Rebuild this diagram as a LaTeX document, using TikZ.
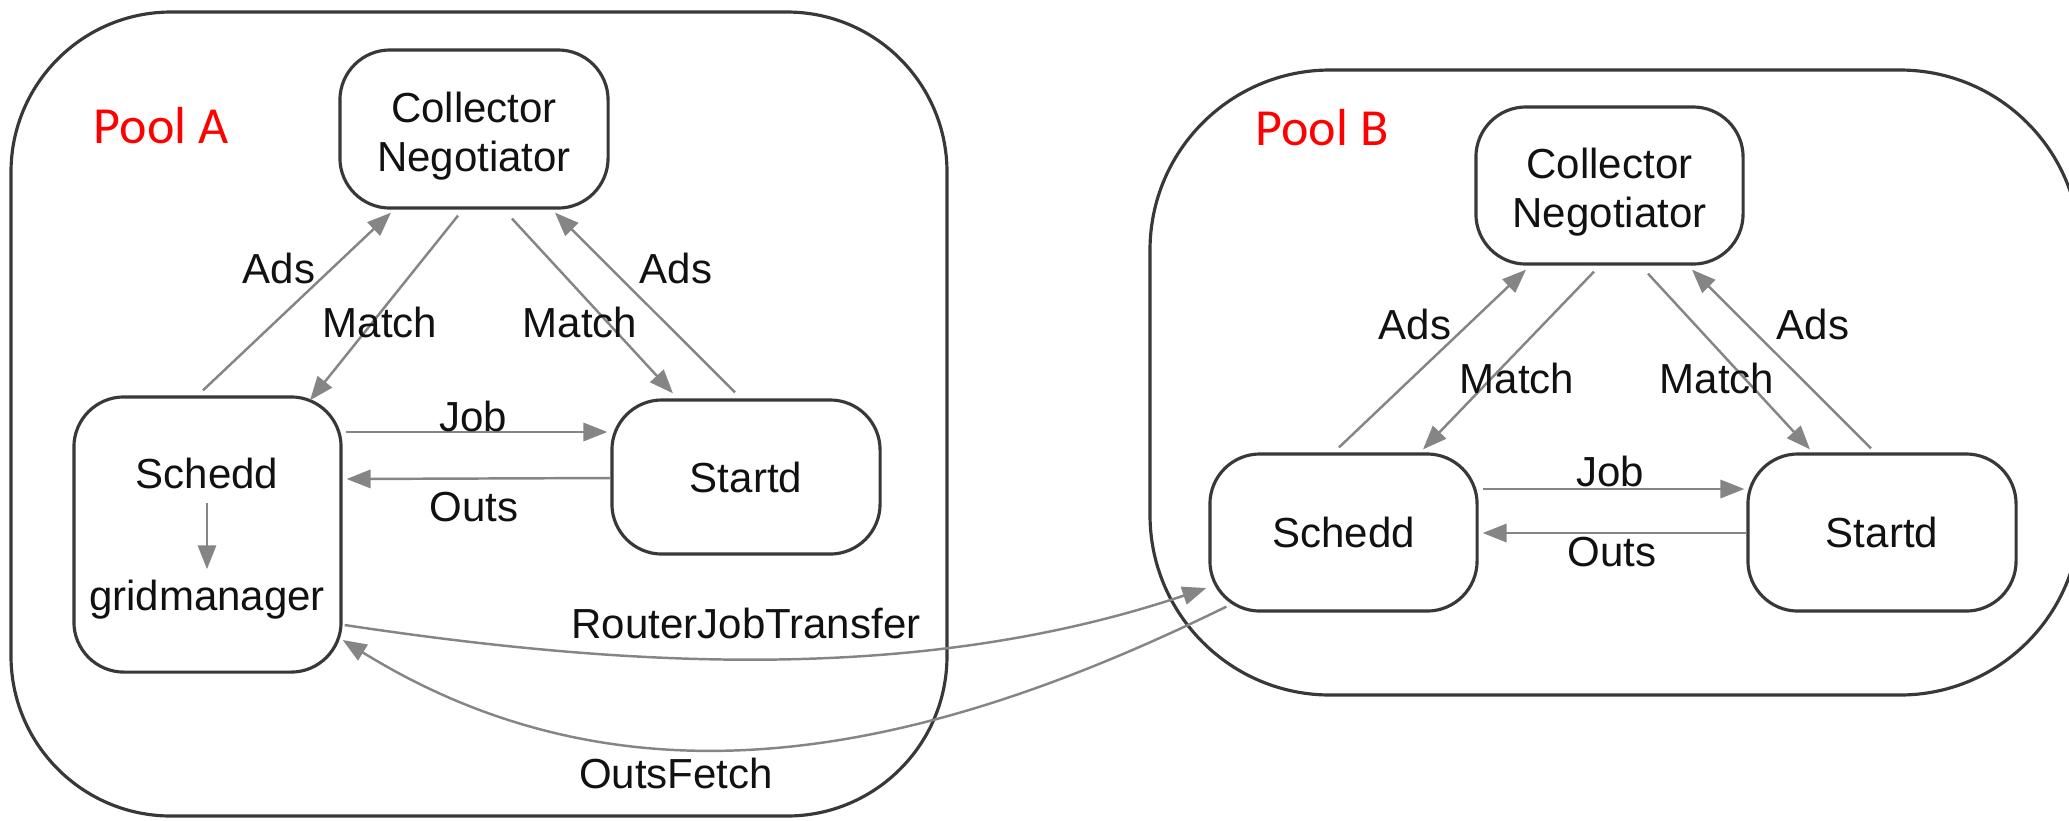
\documentclass[tikz,border=0pt]{standalone}
\usepackage{fontspec}
\setmainfont{Liberation Sans}
\newfontfamily\poolfont{Carlito}
\usetikzlibrary{arrows.meta,calc}
\definecolor{linegray}{HTML}{858585}
\definecolor{boxgray}{HTML}{383838}
\definecolor{txt}{HTML}{111111}
\begin{document}
\begin{tikzpicture}[x=0.01cm,y=-0.01cm,
  box/.style={draw=boxgray, line width=0.9pt, rounded corners=0.5cm, inner sep=0pt,
    align=center, text=txt, font=\fontsize{11.95}{13.9}\selectfont},
  pool/.style={draw=boxgray, line width=0.9pt},
  lbl/.style={text=txt, font=\fontsize{11.95}{13.9}\selectfont, inner sep=0pt, align=center},
  poollbl/.style={text=red, font=\poolfont\fontsize{14.8}{17}\selectfont, inner sep=0pt},
  conn/.style={draw=linegray, line width=0.7pt, -{Triangle[length=6.8pt,width=5.2pt]}}]
\useasboundingbox (0,0) rectangle (2069,820);

% pools
\draw[pool, rounded corners=1.6cm] (11,12) rectangle (947,816);
\draw[pool, rounded corners=1.8cm] (1150,70) rectangle (2080,695);
\node[poollbl] (plA) at (161,126) {Pool A};
\node[poollbl] (plB) at (1322,128) {Pool B};

% Pool A nodes
\node[box, minimum width=2.68cm, minimum height=1.58cm] (collA) at (474,129) {};
\node[lbl] (collAt) at (474,136) {Collector\\Negotiator};
\node[box, minimum width=2.67cm, minimum height=2.75cm] (schedA) at (207.5,534.5) {};
\node[lbl] (schedAt) at (207,473) {Schedd};
\node[lbl] (gmA) at (207,600) {gridmanager};
\node[box, minimum width=2.68cm, minimum height=1.54cm] (startA) at (746,477) {Startd};

% Pool B nodes
\node[box, minimum width=2.67cm, minimum height=1.57cm] (collB) at (1609.5,185.5) {};
\node[lbl] (collBt) at (1609.5,192) {Collector\\Negotiator};
\node[box, minimum width=2.67cm, minimum height=1.57cm] (schedB) at (1343.5,532.5) {Schedd};
\node[box, minimum width=2.68cm, minimum height=1.57cm] (startB) at (1882,532.5) {Startd};

% Pool A connectors
\draw[conn] ($(schedA.north)+(-4.5,-5)$) -- ($(collA.south)+(-83,3)$);
\draw[conn] ($(collA.south)+(-16,6)$) -- ($(schedA.north)+(102.5,5)$);
\draw[conn] ($(collA.south)+(38,9)$) -- ($(startA.north)+(-73,-5)$);
\draw[conn] ($(startA.north)+(-11,-6)$) -- ($(collA.south)+(81,3)$);
\draw[conn] ($(schedA.east)+(3,-102.5)$) -- ($(startA.west)+(-3,-45)$);
\draw[conn] ($(startA.west)+(0,1)$) -- ($(schedA.east)+(4,-55.5)$);
\draw[conn, shorten <=4pt, shorten >=3pt] (schedAt) -- (gmA);

% Pool A labels
\node[lbl] (adsA1) at (279,268) {Ads};
\node[lbl] (matA1) at (380,322) {Match};
\node[lbl] (matA2) at (580,322) {Match};
\node[lbl] (adsA2) at (676,268) {Ads};
\node[lbl] (jobA) at (473,416) {Job};
\node[lbl] (outsA) at (474,507) {Outs};

% Pool B connectors
\draw[conn] ($(schedB.north)+(-4.5,-5)$) -- ($(collB.south)+(-83.5,4)$);
\draw[conn] ($(collB.south)+(-15.5,6)$) -- ($(schedB.north)+(79.5,-3)$);
\draw[conn] ($(collB.south)+(38.5,8)$) -- ($(startB.north)+(-72,-3)$);
\draw[conn] ($(startB.north)+(-11,-4)$) -- ($(collB.south)+(82.5,4)$);
\draw[conn] ($(schedB.east)+(4,-43.5)$) -- ($(startB.west)+(-2,-43.5)$);
\draw[conn] ($(startB.west)+(0,0.5)$) -- ($(schedB.east)+(4,0.5)$);

% Pool B labels
\node[lbl] (adsB1) at (1415,324) {Ads};
\node[lbl] (matB1) at (1517,378) {Match};
\node[lbl] (matB2) at (1717,378) {Match};
\node[lbl] (adsB2) at (1813,324) {Ads};
\node[lbl] (jobB) at (1610,471) {Job};
\node[lbl] (outsB) at (1612,552) {Outs};

% inter-pool connectors
\draw[conn] ($(schedA.east)+(2,90.5)$) .. controls (630,668) and (921,684) .. ($(schedB.west)+(-2,55.5)$);
\draw[conn] ($(schedB.south west)+(18,-6)$) .. controls (934,750) and (637,822) .. ($(schedA.east)+(0,105.5)$);
\node[lbl] (rjt) at (746,623) {RouterJobTransfer};
\node[lbl] (of) at (676,773) {OutsFetch};
\end{tikzpicture}
\end{document}
